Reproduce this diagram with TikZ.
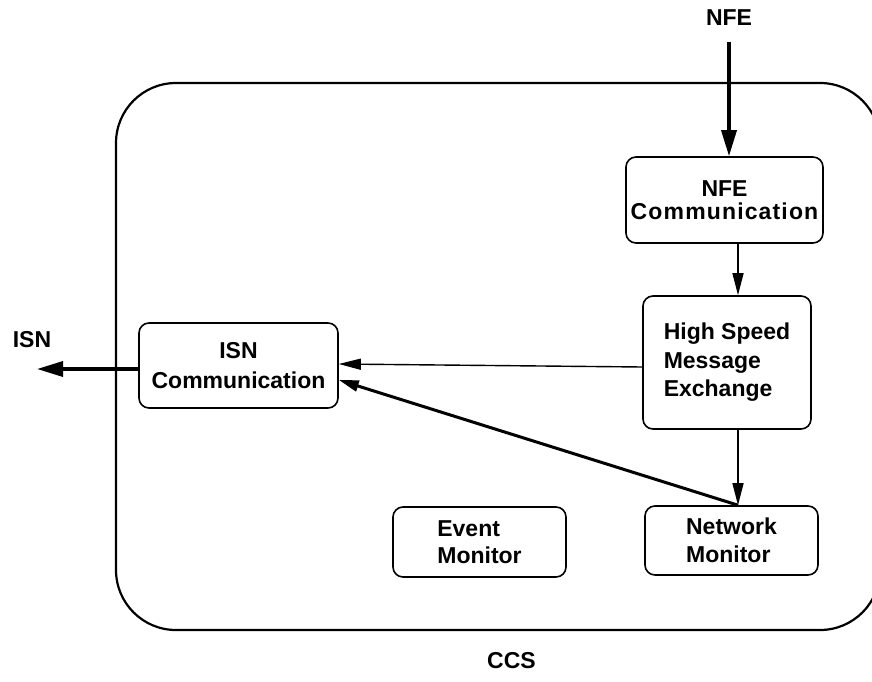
\documentclass[tikz,border=0pt]{standalone}
\usepackage{fontspec}
\setmainfont{Liberation Sans}
\usetikzlibrary{arrows.meta}
\begin{document}
\begin{tikzpicture}[x=1pt,y=-1pt,
  every node/.style={font=\bfseries\fontsize{23}{27}\selectfont, inner sep=0pt},
  box/.style={draw, line width=1.6pt, rounded corners=10pt},
  thinarrow/.style={line width=1.4pt, -{Triangle[length=22pt,width=11pt]}},
  thickarrow/.style={line width=3.4pt, -{Triangle[length=26pt,width=15pt]}},
  medarrow/.style={line width=3pt, -{Triangle[length=20pt,width=11pt]}}
]
\useasboundingbox (0,0) rectangle (872,682);
\clip (0,0) rectangle (872,682);
% outer CCS boundary
\draw[line width=2.2pt, rounded corners=60pt] (116,83) rectangle (880,630);

\node[box, minimum width=197pt, minimum height=86pt, align=center,
  font=\bfseries\fontsize{23}{23}\selectfont] (nfecomm) at (724.5,200)
  {NFE\\{\addfontfeature{LetterSpace=5}Communication}};
\node[box, minimum width=168pt, minimum height=133pt, align=left,
  font=\bfseries\fontsize{23}{28.5}\selectfont] (hsme) at (727,362.5)
  {High Speed\\Message\\Exchange};
\node[box, minimum width=199pt, minimum height=85pt, align=center,
  font=\bfseries\fontsize{23}{30}\selectfont] (isn) at (238.5,365.5)
  {ISN\\Communication};
\node[box, minimum width=173pt, minimum height=70pt, align=left,
  font=\bfseries\fontsize{23}{27}\selectfont] (event) at (479.5,542)
  {Event\\Monitor};
\node[box, minimum width=173pt, minimum height=69pt, align=left,
  font=\bfseries\fontsize{23}{28}\selectfont] (netmon) at (731.5,540.5)
  {Network\\Monitor};

\node (nfe) at (729,17.5) {NFE};
\node (isnlab) at (32,339.5) {ISN};
\node (ccs) at (511.5,661) {CCS};

\coordinate (c1) at (738,0);
\coordinate (isnend) at (37,369);

\draw[thickarrow] ([yshift=-16pt]nfe.south) -- (nfe.south |- nfecomm.north);
\draw[thinarrow] (c1 |- nfecomm.south) -- (c1 |- hsme.north);
\draw[thinarrow] ([yshift=-4.5pt]hsme.west) -- ([yshift=-1.5pt]hsme.west -| isn.east);
\draw[thinarrow] (c1 |- hsme.south) -- (c1 |- netmon.north);
\draw[medarrow] (c1 |- netmon.north) -- ([yshift=-14.5pt]isn.east);
\draw[thickarrow] ([yshift=-3.5pt]isn.west) -- (isnend);
\end{tikzpicture}
\end{document}
